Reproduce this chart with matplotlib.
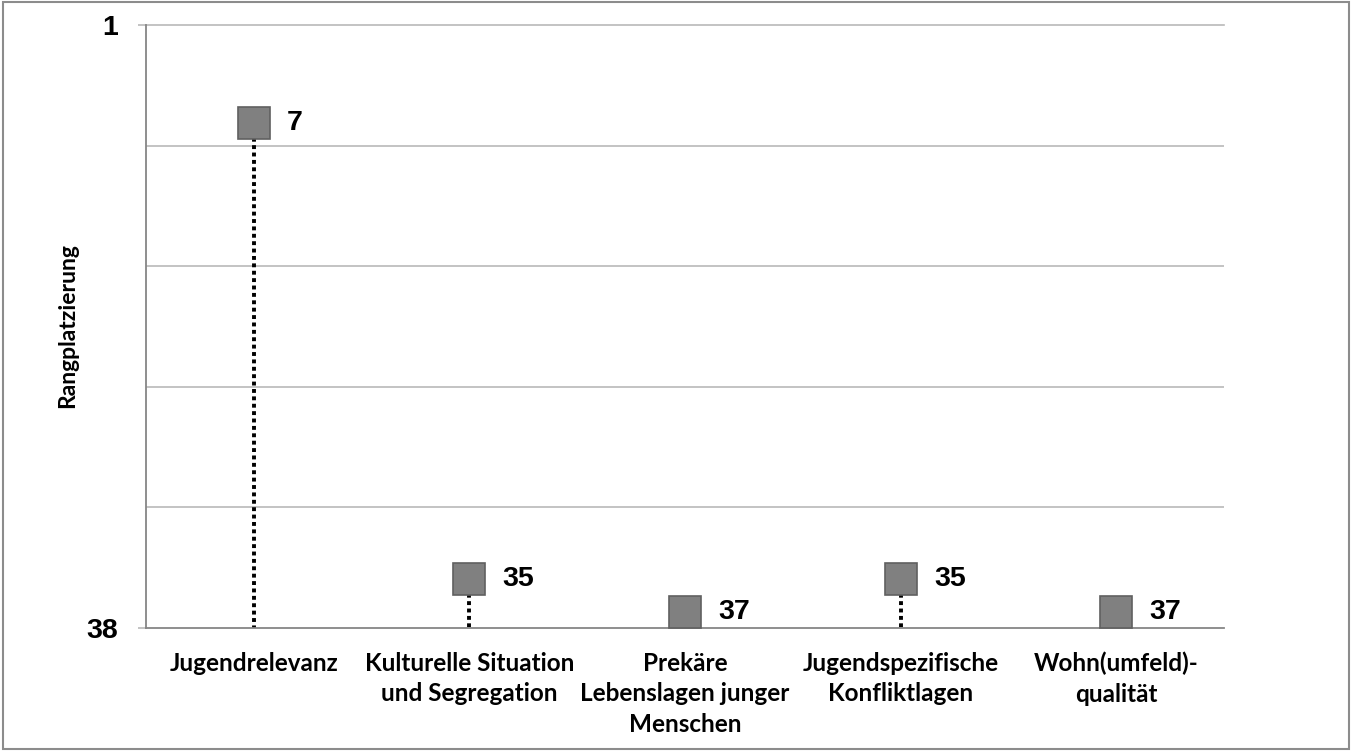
import numpy as np
import matplotlib.pyplot as plt
from matplotlib.patches import Rectangle

categories = ["Jugendrelevanz", "Kulturelle Situation\nund Segregation",
              "Prekäre\nLebenslagen junger\nMenschen", "Jugendspezifische\nKonfliktlagen",
              "Wohn(umfeld)-\nqualität"]
ranks = [7, 35, 37, 35, 37]
rank_min = 1
rank_max = 38

fig = plt.figure(figsize=(13.52, 7.51), dpi=100)
ax = fig.add_axes([146/1352, 1-628/751, 1078/1352, 603/751])

x = np.arange(len(categories))
# drop lines from each marker down to the axis
for xi, r in zip(x, ranks):
    ax.plot([xi, xi], [r, rank_max], color="black", lw=2.8,
            linestyle=(0, (1, 0.9)), zorder=2, solid_capstyle="butt")
ax.plot(x, ranks, linestyle="none", marker="s", markersize=23,
        markerfacecolor="#808080", markeredgecolor="#606060", markeredgewidth=1.2, zorder=3)
for xi, r in zip(x, ranks):
    ax.annotate(str(r), (xi, r), xytext=(24, 0), textcoords="offset points",
                ha="left", va="center", fontsize=20.5, fontweight="bold",
                family="Liberation Sans", color="black")

ax.set_xlim(-0.5, len(categories) - 0.5)
ax.set_ylim(rank_max, rank_min)

grid = np.linspace(rank_min, rank_max, 6)
for g in grid[1:-1]:
    ax.axhline(g, color="#b9b9b9", lw=1.2, zorder=1)
ax.axhline(rank_min, color="#b9b9b9", lw=1.2, zorder=1, clip_on=False)

ax.set_yticks([rank_min, rank_max])
ax.set_yticklabels([str(rank_min), str(rank_max)], fontsize=20.5, fontweight="bold",
                   family="Liberation Sans")
ax.tick_params(axis="y", length=6, width=1.2, color="#b9b9b9", pad=14)
ax.set_xticks(x)
ax.set_xticklabels(categories, fontsize=17.5, fontweight="bold", family="Lato",
                   linespacing=1.4)
ax.tick_params(axis="x", length=0, pad=17)

for s in ["top", "right"]:
    ax.spines[s].set_visible(False)
for s in ["left", "bottom"]:
    ax.spines[s].set_color("#868686")
    ax.spines[s].set_linewidth(1.3)

fig.text(68/1352, 1-326/751, "Rangplatzierung", rotation=90, ha="center", va="center",
         fontsize=16.5, fontweight="bold", family="Lato")

fig.patches.append(Rectangle((0.002, 0.002), 0.996, 0.996, transform=fig.transFigure,
                             fill=False, edgecolor="#8c8c8c", lw=1.5))

fig.savefig("out.png", dpi=100)
